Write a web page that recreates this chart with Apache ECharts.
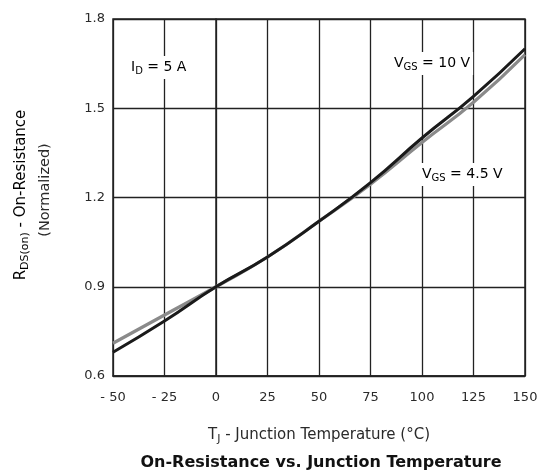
<!DOCTYPE html>
<html>
<head>
<meta charset="utf-8">
<script src="https://cdn.jsdelivr.net/npm/echarts@6/dist/echarts.min.js"></script>
<style>
    html, body { margin: 0; padding: 0; background: #fff; }
    #chart { width: 542px; height: 475px; }
</style>
</head>
<body>
<div id="chart"></div>
<script>
// junction temperature (°C)
const temps = [-50, -25, 0, 25, 50, 75, 100, 125, 150];
// normalized on-resistance
const vgs10 = [0.68, 0.785, 0.90, 1.00, 1.12, 1.25, 1.40, 1.54, 1.70];
const vgs45 = [0.71, 0.805, 0.90, 1.00, 1.12, 1.245, 1.385, 1.52, 1.68];
const xTickLabels = { '-50': '- 50', '-25': '- 25' };

const font = 'DejaVu Sans, Verdana, sans-serif';

function pairs(ys) {
    return temps.map(function (t, i) { return [t, ys[i]]; });
}

// text with a subscript, e.g. V + GS
function subRich(size) {
    return {
        t: { fontFamily: font, fontSize: size, color: '#2a2a2a' },
        s: { fontFamily: font, fontSize: Math.round(size * 0.72), color: '#2a2a2a', padding: [Math.round(size * 0.5), 0, 0, 0] }
    };
}

const chart = echarts.init(document.getElementById('chart'));
chart.setOption({
    animation: false,
    grid: {
        left: 113, right: 17, top: 19, bottom: 99,
        show: true, borderColor: '#222', borderWidth: 1.5
    },
    xAxis: {
        type: 'value', min: -50, max: 150, interval: 25,
        name: '{t|T}{s|J}{t| - Junction Temperature (°C)}',
        nameLocation: 'middle', nameGap: 50,
        nameTextStyle: { rich: subRich(15) },
        axisLine: { lineStyle: { color: '#222', width: 1.5 } },
        axisTick: { show: false },
        axisLabel: {
            margin: 15, fontFamily: font, fontSize: 13, color: '#2a2a2a',
            formatter: function (v) { return xTickLabels[v] || String(v); }
        },
        splitLine: { lineStyle: { color: '#222', width: 1.3 } }
    },
    yAxis: {
        type: 'value', min: 0.6, max: 1.8, interval: 0.3,
        axisLine: { lineStyle: { color: '#222', width: 1.5 } },
        axisTick: { show: false },
        axisLabel: {
            margin: 8, fontFamily: font, fontSize: 13, color: '#2a2a2a',
            formatter: function (v) { return v.toFixed(1); }
        },
        splitLine: { lineStyle: { color: '#222', width: 1.3 } }
    },
    series: [
        {
            name: 'VGS = 4.5 V', type: 'line', smooth: true, symbol: 'none',
            data: pairs(vgs45),
            lineStyle: { color: '#8a8a8a', width: 3.2 }
        },
        {
            name: 'VGS = 10 V', type: 'line', smooth: true, symbol: 'none',
            data: pairs(vgs10),
            lineStyle: { color: '#1a1a1a', width: 3 }
        }
    ],
    graphic: [
        {
            type: 'text', left: 128, top: 56, z: 100,
            style: {
                text: '{t|I}{s|D}{t| = 5 A}',
                backgroundColor: '#fff', padding: [3, 3],
                rich: subRich(14)
            }
        },
        {
            type: 'text', left: 391, top: 52, z: 100,
            style: {
                text: '{t|V}{s|GS}{t| = 10 V}',
                backgroundColor: '#fff', padding: [3, 3],
                rich: subRich(14)
            }
        },
        {
            type: 'text', left: 419, top: 163, z: 100,
            style: {
                text: '{t|V}{s|GS}{t| = 4.5 V}',
                backgroundColor: '#fff', padding: [3, 3],
                rich: subRich(14)
            }
        },
        {
            type: 'text', x: 21, y: 195, rotation: Math.PI / 2, z: 100,
            style: {
                text: '{t|R}{s|DS(on)}{t| - On-Resistance}',
                align: 'center', verticalAlign: 'middle',
                rich: subRich(15)
            }
        },
        {
            type: 'text', x: 45, y: 190, rotation: Math.PI / 2, z: 100,
            style: {
                text: '(Normalized)', align: 'center', verticalAlign: 'middle',
                fontFamily: font, fontSize: 14.5, fill: '#2a2a2a'
            }
        },
        {
            type: 'text', x: 321, y: 463, z: 100,
            style: {
                text: 'On-Resistance vs. Junction Temperature',
                align: 'center', verticalAlign: 'middle',
                fontFamily: font, fontSize: 16, fontWeight: 'bold', fill: '#111'
            }
        }
    ]
});
</script>
</body>
</html>
